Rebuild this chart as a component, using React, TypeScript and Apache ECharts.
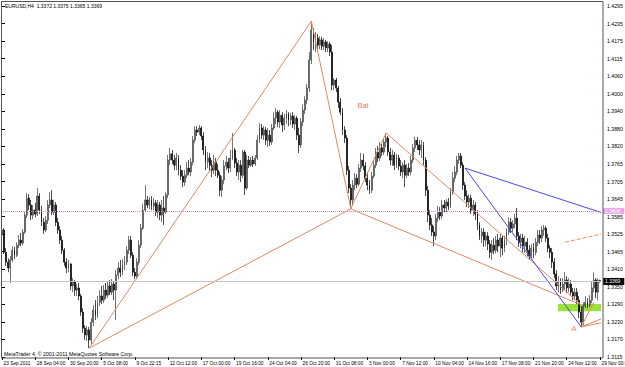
import React, { useEffect, useRef } from "react";
import * as echarts from "echarts";

const X_LABELS = ["23 Sep 2011", "28 Sep 04:00", "30 Sep 20:00", "5 Oct 08:00", "9 Oct 22:15", "12 Oct 12:00", "17 Oct 00:00", "19 Oct 16:00", "24 Oct 04:00", "26 Oct 20:00", "31 Oct 08:00", "3 Nov 00:00", "7 Nov 12:00", "10 Nov 04:00", "14 Nov 16:00", "17 Nov 08:00", "21 Nov 20:00", "24 Nov 12:00", "29 Nov 00:00"];
const Y_LABELS = ["1.3115", "1.3170", "1.3230", "1.3290", "1.3350", "1.3410", "1.3465", "1.3525", "1.3585", "1.3645", "1.3705", "1.3765", "1.3820", "1.3880", "1.3940", "1.4000", "1.4060", "1.4115", "1.4175", "1.4235", "1.4295"];
const Y_MIN = 1.3115;
const Y_MAX = 1.4295;
const Y_STEP = 0.0059;
const LABEL_EVERY = 16;

// [open, close, low, high] per H4 bar
const BARS: number[][] = [
  [1.3525, 1.3542, 1.3508, 1.3555], [1.3542, 1.3467, 1.3461, 1.3548], [1.3467, 1.3434, 1.3421, 1.3481], [1.3434, 1.3414, 1.3400, 1.3447],
  [1.3414, 1.3441, 1.3364, 1.3454], [1.3441, 1.3474, 1.3434, 1.3488], [1.3474, 1.3457, 1.3444, 1.3485], [1.3457, 1.3491, 1.3451, 1.3501],
  [1.3491, 1.3508, 1.3481, 1.3525], [1.3508, 1.3498, 1.3488, 1.3532], [1.3498, 1.3535, 1.3491, 1.3545], [1.3535, 1.3592, 1.3529, 1.3602],
  [1.3592, 1.3649, 1.3582, 1.3666], [1.3649, 1.3626, 1.3609, 1.3663], [1.3626, 1.3592, 1.3575, 1.3643], [1.3592, 1.3609, 1.3579, 1.3626],
  [1.3609, 1.3596, 1.3585, 1.3633], [1.3596, 1.3656, 1.3589, 1.3683], [1.3656, 1.3609, 1.3596, 1.3666], [1.3609, 1.3568, 1.3555, 1.3623],
  [1.3568, 1.3542, 1.3529, 1.3582], [1.3542, 1.3575, 1.3535, 1.3589], [1.3575, 1.3626, 1.3562, 1.3643], [1.3626, 1.3643, 1.3616, 1.3669],
  [1.3643, 1.3602, 1.3592, 1.3676], [1.3602, 1.3626, 1.3592, 1.3643], [1.3626, 1.3568, 1.3555, 1.3636], [1.3568, 1.3542, 1.3529, 1.3582],
  [1.3542, 1.3508, 1.3495, 1.3555], [1.3508, 1.3474, 1.3461, 1.3522], [1.3474, 1.3434, 1.3421, 1.3481], [1.3434, 1.3414, 1.3397, 1.3447],
  [1.3414, 1.3428, 1.3400, 1.3441], [1.3428, 1.3354, 1.3340, 1.3430], [1.3354, 1.3367, 1.3333, 1.3380], [1.3367, 1.3340, 1.3320, 1.3374],
  [1.3340, 1.3347, 1.3320, 1.3360], [1.3347, 1.3320, 1.3306, 1.3364], [1.3320, 1.3266, 1.3253, 1.3327], [1.3266, 1.3212, 1.3196, 1.3279],
  [1.3212, 1.3189, 1.3172, 1.3222], [1.3189, 1.3206, 1.3169, 1.3219], [1.3206, 1.3172, 1.3145, 1.3216], [1.3172, 1.3232, 1.3159, 1.3246],
  [1.3232, 1.3273, 1.3219, 1.3289], [1.3273, 1.3256, 1.3239, 1.3306], [1.3256, 1.3299, 1.3246, 1.3320], [1.3299, 1.3320, 1.3286, 1.3340],
  [1.3320, 1.3306, 1.3293, 1.3354], [1.3306, 1.3340, 1.3296, 1.3357], [1.3340, 1.3323, 1.3310, 1.3364], [1.3323, 1.3354, 1.3313, 1.3367],
  [1.3354, 1.3333, 1.3323, 1.3374], [1.3333, 1.3360, 1.3323, 1.3377], [1.3360, 1.3340, 1.3306, 1.3370], [1.3340, 1.3390, 1.3239, 1.3407],
  [1.3390, 1.3414, 1.3377, 1.3434], [1.3414, 1.3400, 1.3384, 1.3441], [1.3400, 1.3424, 1.3390, 1.3444], [1.3424, 1.3434, 1.3407, 1.3454],
  [1.3434, 1.3474, 1.3424, 1.3488], [1.3474, 1.3508, 1.3461, 1.3522], [1.3508, 1.3457, 1.3447, 1.3522], [1.3457, 1.3400, 1.3387, 1.3467],
  [1.3400, 1.3387, 1.3377, 1.3414], [1.3387, 1.3434, 1.3380, 1.3447], [1.3434, 1.3491, 1.3424, 1.3508], [1.3491, 1.3548, 1.3481, 1.3562],
  [1.3548, 1.3609, 1.3542, 1.3630], [1.3609, 1.3643, 1.3602, 1.3693], [1.3643, 1.3626, 1.3616, 1.3656], [1.3626, 1.3643, 1.3613, 1.3653],
  [1.3643, 1.3623, 1.3609, 1.3656], [1.3623, 1.3633, 1.3609, 1.3649], [1.3633, 1.3602, 1.3589, 1.3643], [1.3602, 1.3626, 1.3582, 1.3643],
  [1.3626, 1.3592, 1.3575, 1.3636], [1.3592, 1.3616, 1.3568, 1.3643], [1.3616, 1.3602, 1.3559, 1.3656], [1.3602, 1.3660, 1.3596, 1.3669],
  [1.3660, 1.3777, 1.3649, 1.3794], [1.3777, 1.3798, 1.3760, 1.3818], [1.3798, 1.3777, 1.3764, 1.3811], [1.3777, 1.3760, 1.3743, 1.3794],
  [1.3760, 1.3784, 1.3743, 1.3801], [1.3784, 1.3743, 1.3726, 1.3794], [1.3743, 1.3723, 1.3710, 1.3760], [1.3723, 1.3703, 1.3686, 1.3743],
  [1.3703, 1.3726, 1.3690, 1.3743], [1.3726, 1.3750, 1.3716, 1.3770], [1.3750, 1.3737, 1.3726, 1.3777], [1.3737, 1.3770, 1.3723, 1.3784],
  [1.3770, 1.3844, 1.3760, 1.3858], [1.3844, 1.3878, 1.3834, 1.3891], [1.3878, 1.3871, 1.3858, 1.3891], [1.3871, 1.3885, 1.3861, 1.3895],
  [1.3885, 1.3858, 1.3844, 1.3891], [1.3858, 1.3811, 1.3794, 1.3871], [1.3811, 1.3770, 1.3743, 1.3824], [1.3770, 1.3784, 1.3750, 1.3804],
  [1.3784, 1.3760, 1.3737, 1.3801], [1.3760, 1.3743, 1.3720, 1.3777], [1.3743, 1.3770, 1.3730, 1.3794], [1.3770, 1.3743, 1.3723, 1.3784],
  [1.3743, 1.3726, 1.3716, 1.3764], [1.3726, 1.3676, 1.3656, 1.3737], [1.3676, 1.3710, 1.3653, 1.3723], [1.3710, 1.3757, 1.3696, 1.3777],
  [1.3757, 1.3770, 1.3743, 1.3791], [1.3770, 1.3750, 1.3733, 1.3784], [1.3750, 1.3784, 1.3737, 1.3811], [1.3784, 1.3811, 1.3777, 1.3868],
  [1.3811, 1.3767, 1.3750, 1.3818], [1.3767, 1.3737, 1.3723, 1.3784], [1.3737, 1.3760, 1.3710, 1.3777], [1.3760, 1.3726, 1.3703, 1.3777],
  [1.3726, 1.3804, 1.3716, 1.3811], [1.3804, 1.3683, 1.3660, 1.3811], [1.3683, 1.3777, 1.3676, 1.3794], [1.3777, 1.3760, 1.3750, 1.3791],
  [1.3760, 1.3777, 1.3754, 1.3787], [1.3777, 1.3764, 1.3754, 1.3791], [1.3764, 1.3784, 1.3757, 1.3794], [1.3784, 1.3844, 1.3777, 1.3861],
  [1.3844, 1.3885, 1.3834, 1.3901], [1.3885, 1.3861, 1.3848, 1.3898], [1.3861, 1.3878, 1.3844, 1.3891], [1.3878, 1.3844, 1.3828, 1.3888],
  [1.3844, 1.3861, 1.3821, 1.3885], [1.3861, 1.3838, 1.3824, 1.3878], [1.3838, 1.3885, 1.3828, 1.3898], [1.3885, 1.3918, 1.3878, 1.3938],
  [1.3918, 1.3938, 1.3898, 1.3952], [1.3938, 1.3905, 1.3888, 1.3945], [1.3905, 1.3928, 1.3885, 1.3945], [1.3928, 1.3895, 1.3871, 1.3938],
  [1.3895, 1.3918, 1.3878, 1.3932], [1.3918, 1.3932, 1.3898, 1.3945], [1.3932, 1.3912, 1.3891, 1.3938], [1.3912, 1.3925, 1.3895, 1.3935],
  [1.3925, 1.3898, 1.3885, 1.3938], [1.3898, 1.3918, 1.3878, 1.3928], [1.3918, 1.3861, 1.3844, 1.3925], [1.3861, 1.3828, 1.3801, 1.3885],
  [1.3828, 1.3905, 1.3818, 1.3918], [1.3905, 1.3945, 1.3891, 1.3965], [1.3945, 1.3979, 1.3932, 1.3992], [1.3979, 1.4019, 1.3965, 1.4033],
  [1.4019, 1.4113, 1.4006, 1.4140], [1.4113, 1.4214, 1.4100, 1.4244], [1.4214, 1.4174, 1.4147, 1.4221], [1.4174, 1.4187, 1.4140, 1.4207],
  [1.4187, 1.4164, 1.4147, 1.4201], [1.4164, 1.4181, 1.4150, 1.4194], [1.4181, 1.4160, 1.4147, 1.4191], [1.4160, 1.4174, 1.4147, 1.4187],
  [1.4174, 1.4154, 1.4140, 1.4181], [1.4154, 1.4167, 1.4140, 1.4177], [1.4167, 1.4140, 1.4127, 1.4174], [1.4140, 1.4029, 1.4012, 1.4164],
  [1.4029, 1.4046, 1.4012, 1.4053], [1.4046, 1.4019, 1.4006, 1.4053], [1.4019, 1.3972, 1.3952, 1.4026], [1.3972, 1.3938, 1.3928, 1.3986],
  [1.3938, 1.3878, 1.3861, 1.3952], [1.3878, 1.3851, 1.3834, 1.3891], [1.3851, 1.3743, 1.3726, 1.3861], [1.3743, 1.3683, 1.3666, 1.3757],
  [1.3683, 1.3643, 1.3613, 1.3696], [1.3643, 1.3693, 1.3626, 1.3710], [1.3693, 1.3716, 1.3676, 1.3733], [1.3716, 1.3696, 1.3683, 1.3730],
  [1.3696, 1.3750, 1.3690, 1.3764], [1.3750, 1.3777, 1.3737, 1.3801], [1.3777, 1.3757, 1.3743, 1.3798], [1.3757, 1.3716, 1.3703, 1.3770],
  [1.3716, 1.3693, 1.3676, 1.3737], [1.3693, 1.3676, 1.3663, 1.3710], [1.3676, 1.3723, 1.3666, 1.3737], [1.3723, 1.3760, 1.3716, 1.3777],
  [1.3760, 1.3804, 1.3750, 1.3818], [1.3804, 1.3784, 1.3770, 1.3824], [1.3784, 1.3818, 1.3774, 1.3838], [1.3818, 1.3804, 1.3791, 1.3831],
  [1.3804, 1.3838, 1.3794, 1.3851], [1.3838, 1.3851, 1.3821, 1.3868], [1.3851, 1.3804, 1.3791, 1.3858], [1.3804, 1.3777, 1.3760, 1.3818],
  [1.3777, 1.3794, 1.3757, 1.3811], [1.3794, 1.3760, 1.3743, 1.3804], [1.3760, 1.3784, 1.3750, 1.3798], [1.3784, 1.3757, 1.3743, 1.3794],
  [1.3757, 1.3737, 1.3723, 1.3777], [1.3737, 1.3760, 1.3716, 1.3770], [1.3760, 1.3726, 1.3686, 1.3777], [1.3726, 1.3750, 1.3716, 1.3764],
  [1.3750, 1.3737, 1.3723, 1.3767], [1.3737, 1.3777, 1.3726, 1.3791], [1.3777, 1.3818, 1.3767, 1.3831], [1.3818, 1.3844, 1.3804, 1.3855],
  [1.3844, 1.3828, 1.3811, 1.3855], [1.3828, 1.3811, 1.3794, 1.3844], [1.3811, 1.3828, 1.3784, 1.3844], [1.3828, 1.3777, 1.3760, 1.3838],
  [1.3777, 1.3676, 1.3656, 1.3787], [1.3676, 1.3592, 1.3568, 1.3690], [1.3592, 1.3559, 1.3542, 1.3609], [1.3559, 1.3535, 1.3522, 1.3582],
  [1.3535, 1.3522, 1.3488, 1.3555], [1.3522, 1.3582, 1.3508, 1.3596], [1.3582, 1.3602, 1.3568, 1.3623], [1.3602, 1.3589, 1.3575, 1.3619],
  [1.3589, 1.3626, 1.3579, 1.3643], [1.3626, 1.3616, 1.3602, 1.3643], [1.3616, 1.3636, 1.3602, 1.3646], [1.3636, 1.3623, 1.3609, 1.3649],
  [1.3623, 1.3669, 1.3616, 1.3683], [1.3669, 1.3716, 1.3660, 1.3737], [1.3716, 1.3737, 1.3703, 1.3757], [1.3737, 1.3777, 1.3726, 1.3791],
  [1.3777, 1.3791, 1.3764, 1.3801], [1.3791, 1.3760, 1.3750, 1.3801], [1.3760, 1.3693, 1.3676, 1.3770], [1.3693, 1.3656, 1.3643, 1.3703],
  [1.3656, 1.3636, 1.3619, 1.3676], [1.3636, 1.3649, 1.3616, 1.3663], [1.3649, 1.3609, 1.3596, 1.3660], [1.3609, 1.3626, 1.3589, 1.3643],
  [1.3626, 1.3596, 1.3575, 1.3636], [1.3596, 1.3559, 1.3542, 1.3609], [1.3559, 1.3522, 1.3508, 1.3568], [1.3522, 1.3535, 1.3498, 1.3548],
  [1.3535, 1.3508, 1.3485, 1.3548], [1.3508, 1.3522, 1.3488, 1.3535], [1.3522, 1.3495, 1.3474, 1.3535], [1.3495, 1.3467, 1.3447, 1.3508],
  [1.3467, 1.3491, 1.3441, 1.3508], [1.3491, 1.3474, 1.3461, 1.3515], [1.3474, 1.3508, 1.3464, 1.3522], [1.3508, 1.3488, 1.3467, 1.3529],
  [1.3488, 1.3515, 1.3451, 1.3529], [1.3515, 1.3481, 1.3457, 1.3525], [1.3481, 1.3508, 1.3467, 1.3522], [1.3508, 1.3535, 1.3491, 1.3548],
  [1.3535, 1.3568, 1.3525, 1.3585], [1.3568, 1.3548, 1.3532, 1.3582], [1.3548, 1.3562, 1.3535, 1.3575], [1.3562, 1.3582, 1.3548, 1.3596],
  [1.3582, 1.3522, 1.3508, 1.3616], [1.3522, 1.3501, 1.3485, 1.3535], [1.3501, 1.3515, 1.3481, 1.3529], [1.3515, 1.3488, 1.3467, 1.3529],
  [1.3488, 1.3501, 1.3464, 1.3522], [1.3501, 1.3474, 1.3454, 1.3515], [1.3474, 1.3454, 1.3441, 1.3491], [1.3454, 1.3481, 1.3441, 1.3495],
  [1.3481, 1.3467, 1.3447, 1.3498], [1.3467, 1.3501, 1.3457, 1.3515], [1.3501, 1.3525, 1.3488, 1.3542], [1.3525, 1.3515, 1.3495, 1.3542],
  [1.3515, 1.3542, 1.3501, 1.3555], [1.3542, 1.3548, 1.3522, 1.3559], [1.3548, 1.3515, 1.3501, 1.3555], [1.3515, 1.3481, 1.3467, 1.3529],
  [1.3481, 1.3467, 1.3447, 1.3491], [1.3467, 1.3434, 1.3414, 1.3481], [1.3434, 1.3394, 1.3380, 1.3447], [1.3394, 1.3354, 1.3340, 1.3407],
  [1.3354, 1.3367, 1.3333, 1.3387], [1.3367, 1.3340, 1.3327, 1.3380], [1.3340, 1.3360, 1.3333, 1.3380], [1.3360, 1.3374, 1.3340, 1.3400],
  [1.3374, 1.3347, 1.3330, 1.3387], [1.3347, 1.3360, 1.3333, 1.3380], [1.3360, 1.3333, 1.3320, 1.3374], [1.3333, 1.3320, 1.3306, 1.3347],
  [1.3320, 1.3333, 1.3306, 1.3347], [1.3333, 1.3306, 1.3293, 1.3347], [1.3306, 1.3266, 1.3246, 1.3320], [1.3266, 1.3232, 1.3216, 1.3286],
  [1.3232, 1.3286, 1.3222, 1.3299], [1.3286, 1.3299, 1.3279, 1.3320], [1.3299, 1.3289, 1.3279, 1.3313], [1.3289, 1.3306, 1.3283, 1.3323],
  [1.3306, 1.3347, 1.3296, 1.3367], [1.3347, 1.3374, 1.3333, 1.3400], [1.3374, 1.3333, 1.3313, 1.3380], [1.3333, 1.3372, 1.3306, 1.3380],
  [1.3372, 1.3369, 1.3365, 1.3375],
];
const CATEGORIES = BARS.map((_, i) => String(i));

// Bat pattern (bar index, price)
const BAT_LINES: number[][][] = [
  [[42, 1.3145], [149, 1.4244]],
  [[149, 1.4244], [168, 1.3613]],
  [[42, 1.3145], [168, 1.3613]],
  [[168, 1.3613], [185, 1.3868]],
  [[185, 1.3868], [279, 1.3290]],
  [[168, 1.3613], [279, 1.3290]],
];
const FAN_LINES: number[][][] = [
  [[279, 1.3216], [285, 1.3299]],
  [[279, 1.3216], [288.5, 1.3243]],
  [[279, 1.3216], [288.5, 1.3230]],
];
const BLUE_LINES: number[][][] = [
  [[223, 1.3750], [288.5, 1.3601]],
  [[223, 1.3750], [279, 1.3216]],
];
const DASH_LINE: number[][] = [[271.2, 1.3501], [288.5, 1.3528]];
const ZONE: number[][] = [[267.8, 1.3293], [288.5, 1.3269]];
const PINK_LEVEL = 1.3606;
const BID = 1.3369;
const BAT_TEXT: number[] = [173.9, 1.3962];
const A_TEXT: number[] = [275.5, 1.3212];

const FONT = "Liberation Sans";

export default function App() {
  const ref = useRef<HTMLDivElement>(null);
  useEffect(() => {
    document.body.style.margin = "0";
    const chart = echarts.init(ref.current!, null, { renderer: "svg" });
    const seg = (pts: number[][], color: string, type: string = "solid") => ({
      type: "line",
      xAxisIndex: 1,
      data: pts,
      symbol: "none",
      silent: true,
      z: 4,
      lineStyle: { color, width: 1, type },
    });
    const showLabel = (i: number) => i % LABEL_EVERY === 0;
    const baseGraphic: any[] = [
      { id: "frame", type: "rect", shape: { x: 1.5, y: 1.5, width: 601.5, height: 356.5 }, style: { fill: "none", stroke: "#555", lineWidth: 1 }, z: 10, silent: true },
      { id: "head", type: "text", left: 5, top: 3, style: { text: "EURUSD,H4  1.3372 1.3375 1.3365 1.3369", fill: "#000", fontSize: 5, fontFamily: FONT }, z: 10 },
      { id: "copy", type: "text", left: 4, top: 351, style: { text: "MetaTrader 4, \u00a9 2001-2011 MetaQuotes Software Corp.", fill: "#000", fontSize: 5.2, fontFamily: FONT }, z: 10 },
    ];
    chart.setOption({
      animation: false,
      backgroundColor: "#ffffff",
      grid: { left: 1, right: 24, top: 6, bottom: 10, containLabel: false, outerBoundsMode: "none" },
      xAxis: [
        {
          type: "category",
          data: CATEGORIES,
          boundaryGap: true,
          axisLine: { show: false },
          axisTick: { show: true, interval: showLabel, alignWithLabel: true, length: 3, lineStyle: { color: "#000" } },
          axisLabel: {
            interval: showLabel,
            formatter: (_v: string, idx: number) => X_LABELS[Math.round(idx / LABEL_EVERY)] ?? "",
            fontSize: 4.8,
            lineHeight: 5,
            fontFamily: FONT,
            color: "#000",
            align: "left",
            margin: 3.5,
            padding: [0, 0, 0, 1.5],
            hideOverlap: false,
          },
          splitLine: { show: false },
        },
        { type: "value", min: -0.5, max: BARS.length - 0.5, show: false },
      ],
      yAxis: {
        type: "value",
        position: "right",
        offset: 2,
        min: Y_MIN,
        max: Y_MAX,
        interval: Y_STEP,
        axisLine: { show: false },
        axisTick: { show: true, length: 3, lineStyle: { color: "#000" } },
        axisLabel: {
          formatter: (v: number) => {
            const k = Math.round((v - Y_MIN) / Y_STEP);
            return k === 0 ? "" : Y_LABELS[k] ?? "";
          },
          fontSize: 5.2,
          lineHeight: 5,
          fontFamily: FONT,
          color: "#000",
          margin: 4,
          showMinLabel: true,
          showMaxLabel: true,
          hideOverlap: false,
        },
        splitLine: { show: false },
      },
      graphic: baseGraphic,
      series: [
        {
          type: "line",
          xAxisIndex: 1,
          data: [],
          silent: true,
          z: 1,
          markArea: {
            silent: true,
            itemStyle: { color: "#9de23b", opacity: 1 },
            data: [[{ coord: ZONE[0] }, { coord: ZONE[1] }]],
          },
          markLine: {
            silent: true,
            symbol: "none",
            precision: 4,
            animation: false,
            data: [
              {
                yAxis: PINK_LEVEL,
                lineStyle: { color: "#e07fe0", type: "dotted", width: 1 },
                label: { show: true, position: "end", distance: 2, formatter: PINK_LEVEL.toFixed(4), backgroundColor: "#e8a6e8", color: "#ffffff", fontSize: 5, lineHeight: 6, fontFamily: FONT, padding: [0, 4, 0, 2] },
              },
              {
                yAxis: BID,
                lineStyle: { color: "#c4c4c4", type: "solid", width: 1 },
                label: { show: true, position: "end", distance: 2, formatter: BID.toFixed(4), backgroundColor: "#000000", color: "#ffffff", fontSize: 5, lineHeight: 7, fontFamily: FONT, padding: [0, 4, 0, 2] },
              },
            ],
          },
        },
        {
          type: "candlestick",
          data: BARS,
          barWidth: 1.4,
          z: 3,
          itemStyle: {
            color: "#b0b0b0",
            color0: "#000000",
            borderColor: "#3a3a3a",
            borderColor0: "#000000",
            borderWidth: 0.7,
          },
        },
        ...BAT_LINES.map((l) => seg(l, "#d98c64")),
        ...FAN_LINES.map((l) => seg(l, "#e8875c")),
        ...BLUE_LINES.map((l) => seg(l, "#4a4ae8")),
        seg(DASH_LINE, "#f08a5c", "dashed"),
        {
          type: "scatter",
          xAxisIndex: 1,
          symbolSize: 1,
          itemStyle: { color: "rgba(0,0,0,0)" },
          silent: true,
          z: 5,
          data: [
            { value: BAT_TEXT, label: { show: true, position: "inside", formatter: "Bat", color: "#ef5526", fontSize: 7.5, fontFamily: FONT } },
            { value: A_TEXT, label: { show: true, position: "inside", formatter: "A", color: "#ee6a3c", fontSize: 8, fontFamily: FONT } },
          ],
        },
      ],
    });
    // lowest price-axis label, placed through the axis scale
    const p = chart.convertToPixel({ xAxisIndex: 1, yAxisIndex: 0 } as any, [BARS.length - 0.5, Y_MIN]) as number[];
    if (p && isFinite(p[0]) && isFinite(p[1])) {
      chart.setOption({
        graphic: [
          ...baseGraphic,
          {
            id: "minLabel",
            type: "text",
            x: p[0] + 6,
            y: p[1],
            z: 11,
            style: { text: Y_LABELS[0], fill: "#000", fontSize: 5.2, fontFamily: FONT, verticalAlign: "middle", align: "left" },
          },
        ],
      });
    }
    return () => chart.dispose();
  }, []);
  return <div ref={ref} style={{ width: 625, height: 367 }} />;
}
